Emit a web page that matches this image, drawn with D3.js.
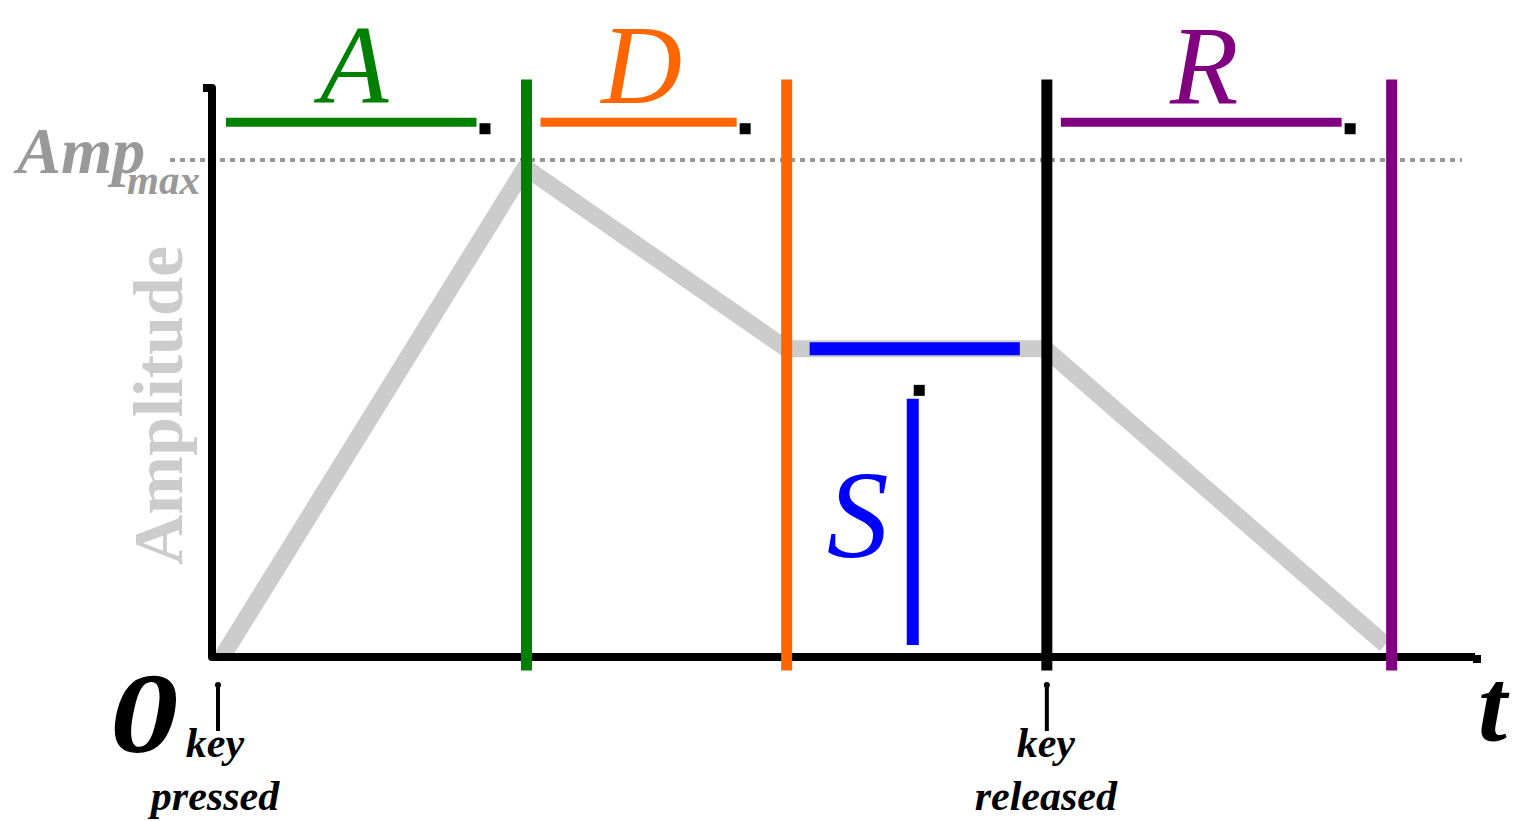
<!DOCTYPE html>
<html>
<head>
<meta charset="utf-8">
<script src="https://cdn.jsdelivr.net/npm/d3@7"></script>
<style>
  body { margin: 0; background: #fff; }
  svg { display: block; }
  text { font-family: "Liberation Serif", "DejaVu Serif", serif; }
</style>
</head>
<body>
<svg width="1517" height="821"></svg>
<script>
// envelope in time units (0..100) and amplitude (0..1, 1 = Amp max)
const envTimes = [0.8, 24.8, 45.5, 66, 92.9];
const envAmps  = [0.0, 0.985, 0.62, 0.62, 0.025];

// phase boundaries
const phaseNames  = ["A", "D", "R"];
const phaseStart  = [0, 24.9, 66.1];
const phaseEnd    = [24.9, 45.5, 93.4];
const phaseColors = ["#008000", "#ff6600", "#800080"];

const sustainLevel = 0.62;
const sustainStart = 45.5;
const sustainEnd   = 66.1;

const markerTimes  = [0, 66.1];
const markerLabels = [["key", "pressed"], ["key", "released"]];

const svg = d3.select("svg");

const x = d3.scaleLinear().domain([0, 100]).range([212, 1475]);
const y = d3.scaleLinear().domain([0, 1]).range([657, 160]);

// dotted Amp max line
svg.append("line")
   .attr("x1", 170).attr("x2", 1462)
   .attr("y1", y(1)).attr("y2", y(1))
   .attr("stroke", "#999").attr("stroke-width", 4)
   .attr("stroke-dasharray", "5,5");

// envelope
const env = envTimes.map((t, i) => [t, envAmps[i]]);
svg.append("path")
   .datum(env)
   .attr("d", d3.line().x(d => x(d[0])).y(d => y(d[1])))
   .attr("fill", "none")
   .attr("stroke", "#cccccc")
   .attr("stroke-width", 17)
   .attr("stroke-linejoin", "round");

// axes
svg.append("path")
   .attr("d", `M203,${y(1.145)} H${x(0)} V${y(0)} H${x(100)}`)
   .attr("fill", "none").attr("stroke", "#000")
   .attr("stroke-width", 8).attr("stroke-linejoin", "round");
svg.append("rect")
   .attr("x", x(100) - 2).attr("y", y(0) - 2).attr("width", 8).attr("height", 8)
   .attr("fill", "#000");

// boundary lines (end of each phase, plus key release)
const vlines = [
  { t: phaseEnd[0], c: phaseColors[0] },
  { t: phaseEnd[1], c: phaseColors[1] },
  { t: phaseStart[2], c: "#000" },
  { t: phaseEnd[2], c: phaseColors[2] }
];
svg.selectAll(".vline")
   .data(vlines)
   .enter().append("line")
   .attr("class", "vline")
   .attr("x1", d => x(d.t)).attr("x2", d => x(d.t))
   .attr("y1", y(1.162)).attr("y2", y(-0.027))
   .attr("stroke", d => d.c)
   .attr("stroke-width", 11);

// phase bars with labels
const barY = y(1.076);
phaseNames.forEach((name, i) => {
  const x0 = x(phaseStart[i]) + 14;
  const x1 = x(phaseEnd[i]) - 50;
  svg.append("line")
     .attr("x1", x0).attr("x2", x1)
     .attr("y1", barY).attr("y2", barY)
     .attr("stroke", phaseColors[i]).attr("stroke-width", 9);
  svg.append("rect")
     .attr("x", x1 + 3).attr("y", barY + 1).attr("width", 11).attr("height", 11)
     .attr("fill", "#000");
  svg.append("text")
     .attr("x", (x0 + x1) / 2 + 3).attr("y", 103)
     .attr("text-anchor", "middle")
     .attr("font-style", "italic")
     .attr("font-size", 112)
     .attr("fill", phaseColors[i])
     .text(name);
});

// sustain
const sx0 = x(sustainStart) + 23, sx1 = x(sustainEnd) - 27;
const sy = y(sustainLevel);
svg.append("line")
   .attr("x1", sx0).attr("x2", sx1).attr("y1", sy).attr("y2", sy)
   .attr("stroke", "#0000ff").attr("stroke-width", 13);
const smid = (sx0 + sx1) / 2 - 2;
svg.append("line")
   .attr("x1", smid).attr("x2", smid).attr("y1", sy + 50).attr("y2", y(0) - 12)
   .attr("stroke", "#0000ff").attr("stroke-width", 12);
svg.append("rect")
   .attr("x", smid + 1).attr("y", sy + 36).attr("width", 11).attr("height", 11)
   .attr("fill", "#000");
svg.append("text")
   .attr("x", smid - 55).attr("y", 557)
   .attr("text-anchor", "middle")
   .attr("font-style", "italic")
   .attr("font-size", 124)
   .attr("fill", "#0000ff")
   .text("S");

// Amp max label
svg.append("text")
   .attr("x", 17).attr("y", 173)
   .attr("font-style", "italic").attr("font-weight", "bold")
   .attr("font-size", 66)
   .attr("fill", "#999")
   .text("Amp");
svg.append("text")
   .attr("x", 127).attr("y", 194)
   .attr("font-style", "italic").attr("font-weight", "bold")
   .attr("font-size", 41)
   .attr("fill", "#999")
   .text("max");

// Amplitude label
svg.append("text")
   .attr("transform", `translate(182,${(245 + 566) / 2}) rotate(-90)`)
   .attr("text-anchor", "middle")
   .attr("font-weight", "bold")
   .attr("font-size", 70)
   .attr("fill", "#cccccc")
   .text("Amplitude");

// 0 and t
svg.append("text")
   .attr("x", 110).attr("y", 752)
   .attr("font-style", "italic").attr("font-weight", "bold")
   .attr("font-size", 114).attr("fill", "#000")
   .attr("transform", "translate(110,752) scale(1.2,1) translate(-110,-752)")
   .text("0");
svg.append("text")
   .attr("x", 1478).attr("y", 740)
   .attr("font-style", "italic").attr("font-weight", "bold")
   .attr("font-size", 104).attr("fill", "#000")
   .text("t");

// key markers
markerTimes.forEach((t, i) => {
  const mx = x(t) + (i === 0 ? 6 : 0);
  svg.append("line")
     .attr("x1", mx).attr("x2", mx).attr("y1", 686).attr("y2", 731)
     .attr("stroke", "#000").attr("stroke-width", 4);
  svg.append("circle")
     .attr("cx", mx).attr("cy", 685).attr("r", 3).attr("fill", "#000");
  const lx = i === 0 ? 215 : mx - 1;
  svg.append("text")
     .attr("x", lx).attr("y", 757)
     .attr("text-anchor", "middle")
     .attr("font-style", "italic").attr("font-weight", "bold")
     .attr("font-size", 42).attr("fill", "#000")
     .text(markerLabels[i][0]);
  svg.append("text")
     .attr("x", lx).attr("y", 810)
     .attr("text-anchor", "middle")
     .attr("font-style", "italic").attr("font-weight", "bold")
     .attr("font-size", 42).attr("fill", "#000")
     .text(markerLabels[i][1]);
});
</script>
</body>
</html>
